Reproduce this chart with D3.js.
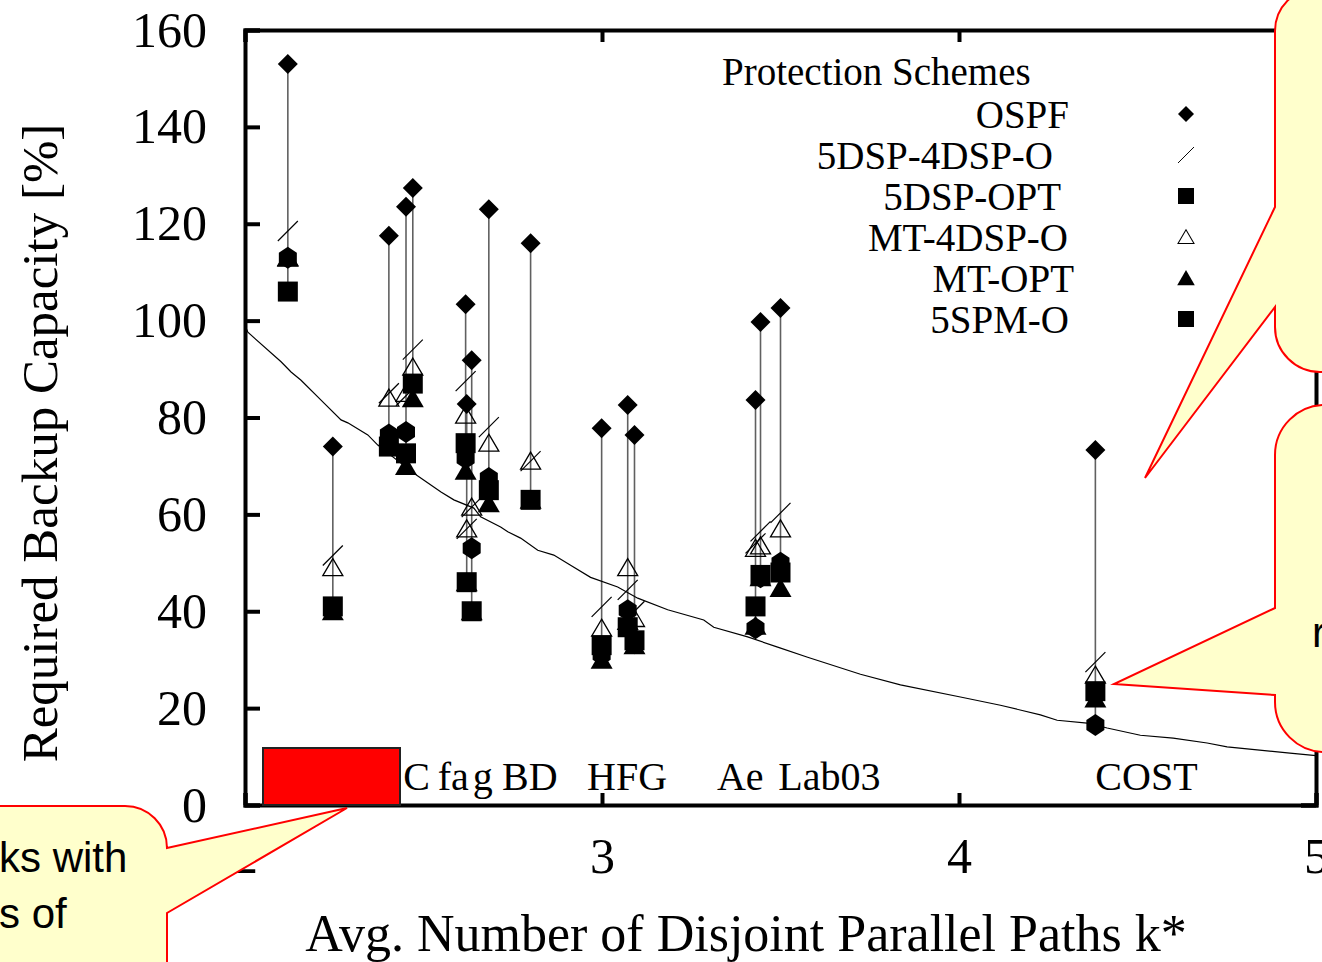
<!DOCTYPE html>
<html>
<head>
<meta charset="utf-8">
<script src="https://cdn.jsdelivr.net/npm/d3@7"></script>
<style>
  body { margin: 0; background: #fff; }
  svg { display: block; }
</style>
</head>
<body>
<div id="chart"></div>
<script>
/* DATA */

// average number of disjoint parallel paths k* of each network
var networkK = [2.120, 2.246, 2.403, 2.451, 2.470, 2.618, 2.621, 2.635, 2.683, 2.800,
                2.999, 3.072, 3.091, 3.430, 3.444, 3.500, 4.382];

// required backup capacity [%] per protection scheme (null = not visible)
var ospf     = [153, 74, 117.5, 123.5, 127.4, 103.4, 82.8, 91.8, 123, 116, 77.8, 82.6, 76.4, 83.6, 99.7, 102.6, 73.3];
var dsp4dspO = [118.5, 51.5, 85, 84.5, 94, 87.5, 57, 61.5, 78, 71, 40.9, 44.4, 40, 54, 56.5, 60.3, 29.5];
var dspOpt   = [106, 41, 74, 72.6, 87, 74.7, 46, 40, 65, 63, 33, 36.7, 34, 41, 47.5, 48, 23.5];
var mt4dspO  = [113, 49, 84, 85, 90.4, 80.5, 57, 61.5, 74.7, 71, 36.5, 49, 38.5, 53, 53.5, 57, 26.8];
var mtOpt    = [113, 40, 76, 70, 84, 69, 46, 40, 62.3, 63, 30, 38, 33, 37, 47, 44.8, 22];
var spmO     = [113, 40.5, 76.5, 77, null, 71.6, null, 53, 67.5, null, 31, 40.2, 33.4, 36.5, 47, 50, 16.5];

var schemeNames = ["OSPF", "5DSP-4DSP-O", "5DSP-OPT", "MT-4DSP-O", "MT-OPT", "5SPM-O"];

// reference curve (k*, capacity)
var curveK = [2.0, 2.008, 2.101, 2.129, 2.157, 2.213, 2.269, 2.288, 2.344, 2.372, 2.473, 2.549, 2.585,
              2.641, 2.660, 2.716, 2.736, 2.772, 2.820, 2.865, 2.912, 2.968, 3.044, 3.100, 3.184,
              3.285, 3.313, 3.408, 3.492, 3.576, 3.724, 3.836, 4.004, 4.116, 4.228, 4.275, 4.359,
              4.415, 4.508, 4.600, 4.695, 4.751, 4.835, 4.927, 5.0];
var curveV = [99, 97.6, 91.5, 89.4, 87.7, 83.6, 79.5, 78.9, 76.4, 74.3, 68.5, 64.6, 63,
              61.3, 59.5, 57.4, 56.4, 55.1, 52.6, 51.6, 49.5, 47, 45, 42.7, 40.3,
              38.2, 36.7, 34.7, 32.6, 30.5, 27, 24.8, 22.3, 20.6, 18.6, 17.5, 16.9,
              15.9, 14.4, 13.8, 12.8, 12, 11.4, 10.7, 10.2];

// network name labels
var netLabels = ["C", "fa", "g", "BD", "HFG", "Ae", "Lab03", "COST"];
var netLabelK = [2.443, 2.540, 2.638, 2.720, 2.958, 3.322, 3.494, 4.382];

var yTicks = [0, 20, 40, 60, 80, 100, 120, 140, 160];
var xTicks = [2, 3, 4, 5];

/* CHART */

var w = 1322;
var h = 962;

var x = d3.scaleLinear().domain([2, 5]).range([245, 1316]);
var y = d3.scaleLinear().domain([0, 160]).range([805, 30]);

var svg = d3.select("#chart").append("svg")
            .attr("width", w)
            .attr("height", h)
            .style("font-family", "'Liberation Serif', 'Times New Roman', serif");

// axes
svg.append("g")
   .attr("transform", "translate(" + x(2) + ",0)")
   .call(d3.axisLeft(y).tickValues(yTicks).tickSize(-15).tickPadding(38));
svg.append("g")
   .attr("transform", "translate(" + x(5) + ",0)")
   .call(d3.axisRight(y).tickValues(yTicks).tickSize(-15).tickFormat(""));
svg.append("g")
   .attr("transform", "translate(0," + y(0) + ")")
   .call(d3.axisBottom(x).tickValues(xTicks).tickSize(-12).tickPadding(32).tickFormat(d3.format("d")));
svg.append("g")
   .attr("transform", "translate(0," + y(160) + ")")
   .call(d3.axisTop(x).tickValues(xTicks).tickSize(-12).tickFormat(""));

svg.selectAll(".domain").attr("stroke", "#000").attr("stroke-width", 4);
svg.selectAll(".tick line").attr("stroke", "#000").attr("stroke-width", 4);
svg.selectAll(".tick text")
   .attr("fill", "#000")
   .style("font-family", "'Liberation Serif', serif")
   .style("font-size", "50px");

// axis titles
svg.append("text")
   .attr("transform", "translate(57,443) rotate(-90)")
   .attr("text-anchor", "middle")
   .style("font-size", "51px")
   .text("Required Backup Capacity [%]");

svg.append("text")
   .attr("x", 746)
   .attr("y", 951)
   .attr("text-anchor", "middle")
   .style("font-size", "52px")
   .text("Avg. Number of Disjoint Parallel Paths k*");

// vertical range lines per network
var series = [ospf, dsp4dspO, dspOpt, mt4dspO, mtOpt, spmO];
var ranges = networkK.map(function(k, i){
  var vals = series.map(function(s){ return s[i]; }).filter(function(v){ return v != null; });
  return {k: k, max: d3.max(vals), min: d3.min(vals)};
});

svg.append("g").selectAll("line")
   .data(ranges)
   .enter().append("line")
   .attr("x1", function(d){ return x(d.k); })
   .attr("x2", function(d){ return x(d.k); })
   .attr("y1", function(d){ return y(d.max); })
   .attr("y2", function(d){ return y(d.min); })
   .attr("stroke", "#606060")
   .attr("stroke-width", 1.6);

// reference curve
var curveData = curveK.map(function(k, i){ return [k, curveV[i]]; });
svg.append("path")
   .datum(curveData)
   .attr("fill", "none")
   .attr("stroke", "#000")
   .attr("stroke-width", 1.2)
   .attr("d", d3.line().x(function(d){ return x(d[0]); }).y(function(d){ return y(d[1]); }));

// marker shapes
var shapes = {
  diamond: "M0,-10L10,0L0,10L-10,0Z",
  slash: "M-10,10L10,-10",
  square: "M-10,-10H10V10H-10Z",
  triOpen: "M0,-9L10,8H-10Z",
  tri: "M0,-10L11,9H-11Z",
  hex: "M0,-11L9,-5V5L0,11L-9,5V-5Z"
};
var schemeShape = ["diamond", "slash", "square", "triOpen", "tri", "hex"];
var legendShape = ["diamond", "slash", "square", "triOpen", "tri", "square"];
var legendRight = [1069, 1053, 1061, 1068, 1074, 1069];

function styleShape(sel, shape){
  if (shape == "slash") {
    sel.attr("fill", "none").attr("stroke", "#000").attr("stroke-width", 1.2);
  } else if (shape == "triOpen") {
    sel.attr("fill", "none").attr("stroke", "#000").attr("stroke-width", 1.3);
  } else {
    sel.attr("fill", "#000").attr("stroke", "none");
  }
}

series.forEach(function(s, si){
  var pts = networkK.map(function(k, i){ return {k: k, v: s[i]}; })
                    .filter(function(d){ return d.v != null; });
  var p = svg.append("g")
             .attr("class", "scheme-" + si)
             .selectAll("path")
             .data(pts)
             .enter().append("path")
             .attr("transform", function(d){ return "translate(" + x(d.k) + "," + y(d.v) + ")"; })
             .attr("d", shapes[schemeShape[si]]);
  styleShape(p, schemeShape[si]);
});

// network labels
svg.append("g").selectAll("text")
   .data(netLabels)
   .enter().append("text")
   .attr("x", function(d, i){ return x(netLabelK[i]); })
   .attr("y", 790)
   .style("font-size", "40px")
   .text(function(d){ return d; });

// legend
var legend = svg.append("g");
legend.append("text")
      .attr("x", 722)
      .attr("y", 85)
      .style("font-size", "39px")
      .text("Protection Schemes");

var entries = legend.selectAll("g.entry")
                    .data(schemeNames)
                    .enter().append("g")
                    .attr("class", "entry")
                    .attr("transform", function(d, i){ return "translate(0," + (128 + i * 41) + ")"; });
entries.append("text")
       .attr("x", function(d, i){ return legendRight[i]; })
       .attr("text-anchor", "end")
       .style("font-size", "39px")
       .text(function(d){ return d; });
entries.append("path")
       .attr("transform", "translate(1186,-14) scale(0.8)")
       .attr("d", function(d, i){ return shapes[legendShape[i]]; })
       .each(function(d, i){ styleShape(d3.select(this), legendShape[i]); });

/* ANNOTATIONS */

svg.append("rect")
   .attr("x", 263)
   .attr("y", 748)
   .attr("width", 137)
   .attr("height", 57)
   .attr("fill", "#ff0000")
   .attr("stroke", "#222")
   .attr("stroke-width", 2);

var callouts = [
  "M1340,-12H1318A43,43 0 0 0 1275,31V207L1145,478L1275,307V327A45,45 0 0 0 1320,372H1340Z",
  "M1340,405H1325A50,50 0 0 0 1275,455V608L1114,684L1275,695V702A50,50 0 0 0 1325,752H1340Z",
  "M-10,806H125A42,42 0 0 1 167,848L347,808L167,913V980H-10Z"
];
svg.append("g").selectAll("path")
   .data(callouts)
   .enter().append("path")
   .attr("d", function(d){ return d; })
   .attr("fill", "#ffffcc")
   .attr("stroke", "#ff0000")
   .attr("stroke-width", 2);

var calloutText = svg.append("g")
                     .style("font-family", "'Liberation Sans', Arial, sans-serif")
                     .style("font-size", "42px");
calloutText.append("text").attr("x", -1).attr("y", 872).text("ks with");
calloutText.append("text").attr("x", -1).attr("y", 928).text("s of");
calloutText.append("text").attr("x", 1312).attr("y", 647).text("r");
</script>
</body>
</html>
